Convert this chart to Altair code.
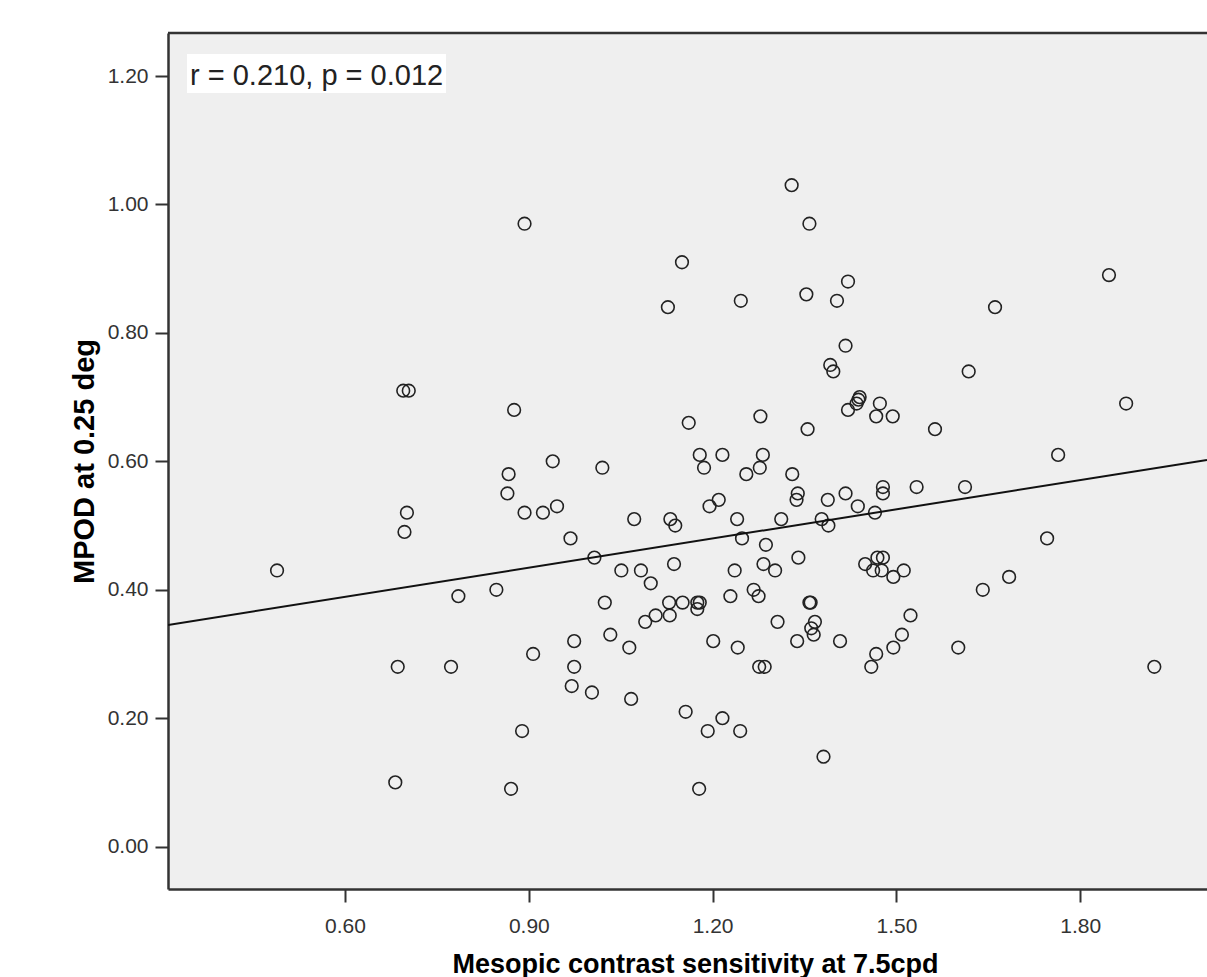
import altair as alt
import pandas as pd

# Mesopic contrast sensitivity at 7.5cpd (x) and MPOD at 0.25 deg (y)
cs_values = [
    1.329, 1.358, 1.150, 1.127, 1.246, 1.353, 1.403, 1.421, 1.661, 0.893,
    1.847, 0.695, 0.704, 0.876, 0.939, 0.867, 0.865, 0.893, 0.923, 0.946,
    0.701, 0.697, 0.968, 0.489, 0.847, 0.785, 1.007, 0.974, 0.907, 1.417,
    1.392, 1.397, 1.618, 1.440, 1.438, 1.435, 1.473, 1.421, 1.467, 1.494,
    1.161, 1.278, 1.355, 1.563, 1.875, 1.179, 1.216, 1.282, 1.764, 1.020,
    1.186, 1.277, 1.255, 1.330, 1.339, 1.337, 1.478, 1.478, 1.533, 1.612,
    1.417, 1.388, 1.210, 1.195, 1.437, 1.465, 1.072, 1.131, 1.139, 1.240,
    1.312, 1.378, 1.389, 1.248, 1.287, 1.746, 1.051, 1.083, 1.099, 1.137,
    1.236, 1.283, 1.302, 1.340, 1.449, 1.469, 1.478, 1.462, 1.476, 1.512,
    1.495, 1.641, 1.684, 1.024, 1.129, 1.151, 1.179, 1.175, 1.175, 1.229, 1.267,
    1.275, 1.358, 1.360, 1.090, 1.107, 1.130, 1.306, 1.367, 1.361, 1.365,
    1.523, 1.033, 1.064, 1.201, 1.241, 1.338, 1.408, 1.509, 1.495, 1.601,
    1.467, 0.686, 0.773, 0.974, 0.970, 1.003, 0.889, 0.682, 0.871, 1.067,
    1.156, 1.192, 1.216, 1.245, 1.381, 1.178, 1.276, 1.285, 1.459, 1.921,
]
mpod_values = [
    1.03, 0.97, 0.91, 0.84, 0.85, 0.86, 0.85, 0.88, 0.84, 0.97,
    0.89, 0.71, 0.71, 0.68, 0.60, 0.58, 0.55, 0.52, 0.52, 0.53,
    0.52, 0.49, 0.48, 0.43, 0.40, 0.39, 0.45, 0.32, 0.30, 0.78,
    0.75, 0.74, 0.74, 0.70, 0.696, 0.69, 0.69, 0.68, 0.67, 0.67,
    0.66, 0.67, 0.65, 0.65, 0.69, 0.61, 0.61, 0.61, 0.61, 0.59,
    0.59, 0.59, 0.58, 0.58, 0.55, 0.54, 0.56, 0.55, 0.56, 0.56,
    0.55, 0.54, 0.54, 0.53, 0.53, 0.52, 0.51, 0.51, 0.50, 0.51,
    0.51, 0.51, 0.50, 0.48, 0.47, 0.48, 0.43, 0.43, 0.41, 0.44,
    0.43, 0.44, 0.43, 0.45, 0.44, 0.45, 0.45, 0.43, 0.43, 0.43,
    0.42, 0.40, 0.42, 0.38, 0.38, 0.38, 0.38, 0.38, 0.37, 0.39, 0.40,
    0.39, 0.38, 0.38, 0.35, 0.36, 0.36, 0.35, 0.35, 0.34, 0.33,
    0.36, 0.33, 0.31, 0.32, 0.31, 0.32, 0.32, 0.33, 0.31, 0.31,
    0.30, 0.28, 0.28, 0.28, 0.25, 0.24, 0.18, 0.10, 0.09, 0.23,
    0.21, 0.18, 0.20, 0.18, 0.14, 0.09, 0.28, 0.28, 0.28, 0.28,
]

x_ticks = [0.60, 0.90, 1.20, 1.50, 1.80]
y_ticks = [0.00, 0.20, 0.40, 0.60, 0.80, 1.00, 1.20]
x_domain = [0.311, 2.007]
y_domain = [-0.066, 1.267]

# Fit line (as drawn in the picture)
fit_intercept = 0.298
fit_slope = 0.1515
annotation = "r = 0.210, p = 0.012"

x_title = "Mesopic contrast sensitivity at 7.5cpd"
y_title = "MPOD at 0.25 deg"

W, H = 1039, 856
AX = "#333333"
FONT = "Liberation Sans"

pts = pd.DataFrame({"cs": cs_values, "mpod": mpod_values})
fit = pd.DataFrame({"cs": x_domain,
                    "mpod": [fit_intercept + fit_slope * v for v in x_domain]})
one = alt.Data(values=[{}])

xs = alt.Scale(domain=x_domain, nice=False, zero=False)
ys = alt.Scale(domain=y_domain, nice=False, zero=False)

x_axis = alt.Axis(values=x_ticks, format=".2f", grid=False,
                  domainColor=AX, domainWidth=2.5, tickColor=AX, tickWidth=2,
                  tickSize=13, labelFont=FONT, labelFontSize=21,
                  labelColor="#333333", labelBaseline="alphabetic",
                  labelPadding=30, labelFlush=False,
                  title=x_title, titleFont=FONT, titleFontSize=27,
                  titleFontWeight="bold", titleColor="#000000",
                  titleX=527, titleY=83, titleBaseline="alphabetic",
                  titleAlign="center")
y_axis = alt.Axis(values=y_ticks, format=".2f", grid=False,
                  domainColor=AX, domainWidth=2.5, tickColor=AX, tickWidth=2,
                  tickSize=13, labelFont=FONT, labelFontSize=21,
                  labelColor="#333333", labelBaseline="middle",
                  labelPadding=7, labelFlush=False,
                  title=y_title, titleFont=FONT, titleFontSize=29,
                  titleFontWeight="bold", titleColor="#000000",
                  titleX=-84, titleY=H / 2, titleBaseline="middle",
                  titleAlign="center", titleAngle=270)

points = alt.Chart(pts).mark_point(
    shape="circle", filled=False, size=160, strokeWidth=1.6,
    color="#222222", opacity=1
).encode(
    x=alt.X("cs:Q", scale=xs, axis=x_axis),
    y=alt.Y("mpod:Q", scale=ys, axis=y_axis),
)

line = alt.Chart(fit).mark_line(color="#111111", strokeWidth=2, clip=True).encode(
    x=alt.X("cs:Q", scale=xs), y=alt.Y("mpod:Q", scale=ys)
)

top_border = alt.Chart(one).mark_rule(color=AX, strokeWidth=2.5).encode(
    x=alt.value(0), x2=alt.value(W), y=alt.value(0)
)

label_box = alt.Chart(one).mark_rect(color="white").encode(
    x=alt.value(19), x2=alt.value(278), y=alt.value(21), y2=alt.value(60)
)
label_text = alt.Chart(one).mark_text(
    text=annotation, font=FONT, fontSize=29, color="#222222",
    align="left", baseline="alphabetic"
).encode(x=alt.value(22), y=alt.value(52))

chart = alt.layer(label_box, points, line, top_border, label_text).properties(
    width=W, height=H,
    autosize=alt.AutoSizeParams(type="none"),
    padding={"left": 168, "top": 33, "right": 0, "bottom": 88},
    background="white",
).configure_view(fill="#EFEFEF", strokeWidth=0)

chart.save("out.html", embed_options={"renderer": "svg", "actions": False})
